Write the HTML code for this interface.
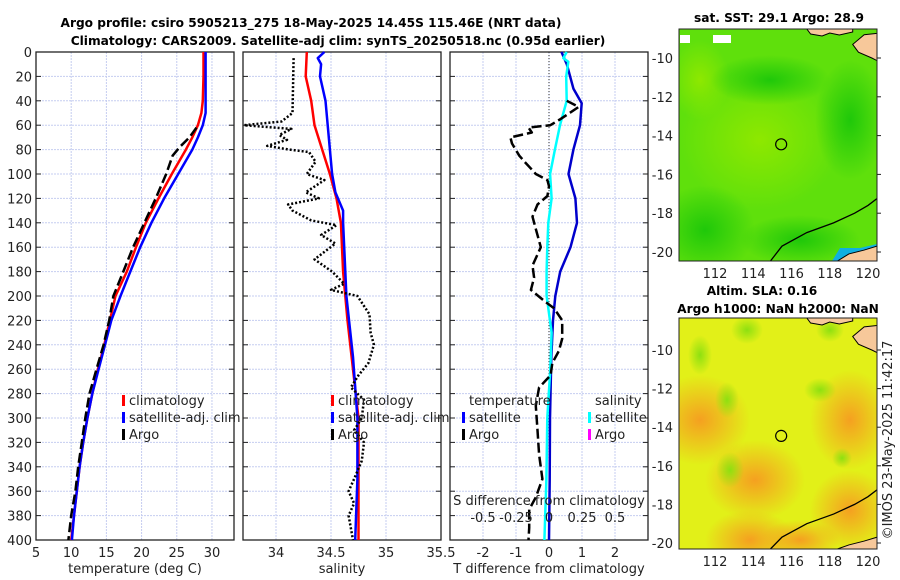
<!DOCTYPE html>
<html><head><meta charset="utf-8"><style>
html,body{margin:0;padding:0;background:#fff;width:900px;height:580px;overflow:hidden}
svg{display:block;font-family:"DejaVu Sans","Liberation Sans",sans-serif}
.t{font-size:13px;fill:#222}
.b{font-weight:bold;font-size:12.2px;fill:#000}
</style></head><body>
<svg id="c" width="900" height="580">
<defs>
<radialGradient id="g1"><stop offset="0" stop-color="#8ee800"/><stop offset="1" stop-color="#8ee800" stop-opacity="0"/></radialGradient>
<radialGradient id="g2"><stop offset="0" stop-color="#1fc80a"/><stop offset="1" stop-color="#1fc80a" stop-opacity="0"/></radialGradient>
<radialGradient id="o1"><stop offset="0" stop-color="#f5a020"/><stop offset="1" stop-color="#f5a020" stop-opacity="0"/></radialGradient>
<radialGradient id="y1"><stop offset="0" stop-color="#8ee010"/><stop offset="1" stop-color="#8ee010" stop-opacity="0"/></radialGradient>
<clipPath id="cm1"><rect x="679" y="29" width="198" height="232"/></clipPath>
<clipPath id="cm2"><rect x="679" y="318" width="198" height="231"/></clipPath>
</defs>
<text class="b" x="311" y="27" text-anchor="middle">Argo profile: csiro 5905213_275 18-May-2025 14.45S 115.46E (NRT data)</text>
<text class="b" x="338" y="45" text-anchor="middle">Climatology: CARS2009. Satellite-adj clim: synTS_20250518.nc (0.95d earlier)</text>
<g id="plots"></g>
<g id="maps"></g>
<text class="t" x="892" y="440" text-anchor="middle" transform="rotate(-90 892 440)">©IMOS 23-May-2025 11:42:17</text>
</svg>
<script>
// ---- data ----
const depthTicks=[0,20,40,60,80,100,120,140,160,180,200,220,240,260,280,300,320,340,360,380,400];
const tTicks=[5,10,15,20,25,30];
const sTicks=[34,34.5,35,35.5];
const dTicks=[-2,-1,0,1,2];
const dTickLabels=["-2","-1","0","1","2"];
const sdTicks=[-0.5,-0.25,0,0.25,0.5];
const climTdepth=[0,20,40,50,60,70,80,100,120,140,160,180,200,220,240,260,280,300,320,340,360,380,400];
const climT=[28.8,28.8,28.7,28.5,28.0,27.2,26.3,24.3,22.4,20.6,19.2,17.9,16.3,15.5,14.7,13.8,13.0,12.3,11.7,11.2,10.8,10.4,10.0];
const satTdepth=[0,20,40,50,60,70,80,100,120,140,160,180,200,220,240,260,280,300,320,340,360,380,400];
const satT=[29.1,29.1,29.1,29.1,28.7,28.0,27.2,25.2,23.2,21.4,19.8,18.4,17.0,15.7,14.8,13.9,13.0,12.3,11.7,11.2,10.8,10.4,10.1];
const argoTdepth=[62,70,78,85,100,120,140,160,180,200,220,240,260,280,300,320,340,360,380,400];
const argoT=[27.8,26.8,25.4,24.4,23.5,22.0,20.4,18.8,17.4,16.0,15.4,14.6,13.6,12.6,12.0,11.5,11.0,10.6,10.0,9.6];
const climSdepth=[0,20,40,60,80,100,120,140,160,180,200,220,260,300,350,400];
const climS=[34.28,34.27,34.32,34.35,34.42,34.49,34.55,34.59,34.6,34.61,34.63,34.65,34.7,34.75,34.75,34.75];
const satSdepth=[0,5,10,20,40,60,80,100,115,130,140,180,200,250,300,350,400];
const satS=[34.44,34.38,34.41,34.40,34.45,34.47,34.49,34.51,34.54,34.61,34.61,34.63,34.64,34.7,34.74,34.74,34.72];
const argoSdepth=[5,50,57,60,63,68,72,77,80,82,90,100,105,115,120,125,130,138,142,150,157,170,180,190,195,200,215,230,240,255,265,275,285,300,310,320,335,350,360,370,380,390,400];
const argoS=[34.16,34.15,34.05,33.71,34.14,34.03,34.1,33.92,34.12,34.3,34.36,34.28,34.44,34.27,34.39,34.11,34.15,34.32,34.55,34.41,34.54,34.35,34.51,34.62,34.5,34.74,34.85,34.86,34.89,34.84,34.75,34.68,34.8,34.78,34.71,34.8,34.78,34.71,34.66,34.71,34.66,34.68,34.7];
const dSatTdepth=[0,10,30,42,60,80,100,120,140,160,180,200,220,250,300,350,400];
const dSatT=[0.38,0.54,0.74,0.99,0.94,0.74,0.59,0.8,0.85,0.65,0.34,0.19,0.12,0.07,0.03,0.02,0.0];
const dArgoTdepth=[40,45,55,60,62,66,70,75,85,90,97,100,105,110,118,125,135,145,160,175,185,195,205,210,220,235,245,255,265,275,290,310,330,350,365,375,390,400];
const dArgoT=[0.54,0.9,0.35,0.04,-0.62,-0.52,-1.17,-1.12,-0.9,-0.74,-0.5,-0.4,-0.05,0.0,-0.05,-0.35,-0.5,-0.4,-0.25,-0.5,-0.45,-0.55,-0.1,0.15,0.4,0.4,0.3,0.1,0.05,-0.3,-0.4,-0.35,-0.3,-0.2,-0.4,-0.6,-0.6,-0.62];
const dSatSdepth=[0,5,8,20,40,60,80,100,120,140,160,180,200,210,230,260,300,350,400];
const dSatS=[0.134,0.108,0.146,0.13,0.134,0.083,0.045,0.008,0.02,-0.005,-0.013,-0.018,-0.018,-0.005,0.02,0.01,-0.013,-0.02,-0.035];
const mapLonTicks=[112,114,116,118,120];
const mapLatTicks=[-10,-12,-14,-16,-18,-20];
const argoLon=115.46, argoLat=-14.45;

// ---- helpers ----
const NS="http://www.w3.org/2000/svg";
function mk(tag,attrs,parent){const e=document.createElementNS(NS,tag);for(const k in attrs)e.setAttribute(k,attrs[k]);parent.appendChild(e);return e;}
const Y0=52,Y1=540;
const yScale=d=>Y0+(Y1-Y0)*d/400;
const panels=[
 {name:'temperature-panel',x0:36,x1:234,v0:5,v1:33.13},
 {name:'salinity-panel',x0:243,x1:441,v0:33.7,v1:35.5},
 {name:'difference-panel',x0:450,x1:648,v0:-3,v1:3}
];
panels.forEach(p=>p.sc=v=>p.x0+(v-p.v0)/(p.v1-p.v0)*(p.x1-p.x0));
const sdScale=v=>panels[2].sc(v*4);
const root=document.getElementById('plots');

function axes(p,xt,xl,xlabel,showY){
 const g=mk('g',{},root);
 
 
 depthTicks.forEach(d=>{const l=mk('line',{x1:p.x0,x2:p.x1,y1:yScale(d),y2:yScale(d),stroke:'#c5cdf0','stroke-width':1,'stroke-dasharray':'2,1'},g);
  
  mk('line',{x1:p.x0,x2:p.x0+5,y1:yScale(d),y2:yScale(d),stroke:'#222'},g);
  mk('line',{x1:p.x1-5,x2:p.x1,y1:yScale(d),y2:yScale(d),stroke:'#222'},g);
  if(showY){const t=mk('text',{x:p.x0-4,y:yScale(d)+5,'text-anchor':'end',class:'t'},g);t.textContent=d;
   }
 });
 xt.forEach((v,i)=>{const x=p.sc(v);
  if(x>p.x0+1&&x<p.x1-1){const l=mk('line',{x1:x,x2:x,y1:Y0,y2:Y1,stroke:'#c5cdf0','stroke-dasharray':'2,1'},g);
   }
  const t=mk('text',{x:x,y:Y1+17,'text-anchor':'middle',class:'t'},g);t.textContent=xl[i];
  
 });
 const fr=mk('rect',{x:p.x0,y:Y0,width:p.x1-p.x0,height:Y1-Y0,fill:'none',stroke:'#222','stroke-width':1.3},g);
 
 const xt2=mk('text',{x:(p.x0+p.x1)/2,y:Y1+33,'text-anchor':'middle',class:'t'},g);xt2.textContent=xlabel;
 
 return g;
}
function series(p,sc,depths,vals,color,w,dash,name){
 const pts=depths.map((d,i)=>sc(vals[i]).toFixed(1)+','+yScale(d).toFixed(1)).join(' ');
 const a={points:pts,fill:'none',stroke:color,'stroke-width':w,'stroke-linejoin':'round'};
 if(dash)a['stroke-dasharray']=dash;
 const e=mk('polyline',a,root);
 
 
}
function legend(x,y,items,pname){
 items.forEach((it,i)=>{
  const yy=y+i*17;
  if(it.c){const m=mk('rect',{x:x,y:yy-10,width:3,height:11,fill:it.c},root);
   }
  const t=mk('text',{x:x+(it.c?7:0),y:yy,class:'t','font-size':'13'},root);t.textContent=it.t;
  
 });
}

const p1=panels[0],p2=panels[1],p3=panels[2];
axes(p1,tTicks,tTicks,'temperature (deg C)',true);
series(p1,p1.sc,climTdepth,climT,'#f00',2.5,null,'climatology-temperature-line');
series(p1,p1.sc,satTdepth,satT,'#00f',2.5,null,'satellite-temperature-line');
series(p1,p1.sc,argoTdepth,argoT,'#000',2.5,'10,4','argo-temperature-line');
legend(122,405,[{t:'climatology',c:'#f00'},{t:'satellite-adj. clim',c:'#00f'},{t:'Argo',c:'#000'}],'temperature');
axes(p2,sTicks,sTicks,'salinity',false);
series(p2,p2.sc,climSdepth,climS,'#f00',2.5,null,'climatology-salinity-line');
series(p2,p2.sc,satSdepth,satS,'#00f',2.5,null,'satellite-salinity-line');
series(p2,p2.sc,argoSdepth,argoS,'#000',2.5,'2,2','argo-salinity-line');
legend(331,405,[{t:'climatology',c:'#f00'},{t:'satellite-adj. clim',c:'#00f'},{t:'Argo',c:'#000'}],'salinity');
axes(p3,dTicks,dTickLabels,'T difference from climatology',false);
const zl=mk('line',{x1:p3.sc(0),x2:p3.sc(0),y1:Y0,y2:Y1,stroke:'#333','stroke-dasharray':'1,2'},root);

series(p3,p3.sc,dSatTdepth,dSatT,'#00c',2.5,null,'satellite-t-difference-line');
series(p3,sdScale,dSatSdepth,dSatS,'#0ff',2.5,null,'satellite-s-difference-line');
series(p3,p3.sc,dArgoTdepth,dArgoT,'#000',2.5,'10,4','argo-t-difference-line');
legend(469,405,[{t:'temperature'}],'diff');
legend(462,422,[{t:'satellite',c:'#00f'},{t:'Argo',c:'#000'}],'diff-temperature');
legend(595,405,[{t:'salinity'}],'diff');
legend(588,422,[{t:'satellite',c:'#0ff'},{t:'Argo',c:'#f0f'}],'diff-salinity');
const sdt=mk('text',{x:549,y:505,'text-anchor':'middle',class:'t'},root);sdt.textContent='S difference from climatology';

sdTicks.forEach(v=>{const t=mk('text',{x:sdScale(v),y:522,'text-anchor':'middle',class:'t'},root);t.textContent=v;
 });

// ---- maps ----
const maps=document.getElementById('maps');
function map(y0,y1,lat10y,lat20y,kind,clip,titleLines){
 const x0=679,x1=877;
 const lonS=l=>715+(l-112)*(868-715)/8;
 const latS=l=>lat10y+(-10-l)*(lat20y-lat10y)/10;
 const g=mk('g',{},maps);
 
 
 const gc=mk('g',{'clip-path':'url(#'+clip+')'},g);
 if(kind==='sst'){
  mk('rect',{x:x0,y:y0,width:x1-x0,height:y1-y0,fill:'#5fe00c'},gc);
  mk('ellipse',{cx:760,cy:140,rx:80,ry:70,fill:'url(#g1)'},gc);
  mk('ellipse',{cx:700,cy:80,rx:30,ry:40,fill:'url(#g1)'},gc);
  mk('ellipse',{cx:770,cy:80,rx:60,ry:25,fill:'url(#g2)'},gc);
  mk('ellipse',{cx:705,cy:230,rx:50,ry:45,fill:'url(#g2)'},gc);
  mk('ellipse',{cx:850,cy:120,rx:35,ry:60,fill:'url(#g2)'},gc);
  mk('ellipse',{cx:800,cy:240,rx:60,ry:25,fill:'url(#g2)'},gc);
  mk('rect',{x:680,y:35,width:10,height:8,fill:'#fff'},gc);
  mk('rect',{x:713,y:35,width:18,height:8,fill:'#fff'},gc);
  mk('polygon',{points:'832,261 840,248 860,248 877,244 877,261',fill:'#10b0e0'},gc);
 } else {
  mk('rect',{x:x0,y:y0,width:x1-x0,height:y1-y0,fill:'#e2f018'},gc);
  [[700,420,50,45],[850,420,40,50],[755,480,50,40],[750,540,45,30],[850,510,40,40],[800,540,40,20]].forEach(b=>mk('ellipse',{cx:b[0],cy:b[1],rx:b[2],ry:b[3],fill:'url(#o1)'},gc));
  [[747,330,16,14],[820,390,16,12],[727,400,12,18],[842,458,10,10],[700,355,12,20],[830,330,14,12],[730,470,14,18]].forEach(b=>mk('ellipse',{cx:b[0],cy:b[1],rx:b[2],ry:b[3],fill:'url(#y1)'},gc));
 }
 const top=y0;
 mk('polygon',{points:`${lonS(116.8)},${top} ${lonS(117)},${top+5} ${lonS(117.6)},${top+7} ${lonS(118)},${top+4} ${lonS(118.5)},${top+6} ${lonS(119.2)},${top+3} ${lonS(119.2)},${top} `,fill:'#f7c89a',stroke:'#000','stroke-width':1},gc);
 mk('polygon',{points:`${lonS(120.8)},${latS(-8.7)} ${lonS(119.8)},${latS(-8.8)} ${lonS(119.2)},${latS(-9.3)} ${lonS(119.5)},${latS(-9.7)} ${lonS(120.2)},${latS(-10.0)} ${lonS(120.8)},${latS(-10.3)}`,fill:'#f7c89a',stroke:'#000','stroke-width':1},gc);
 mk('polygon',{points:`${lonS(118.4)},${y1} ${lonS(119)},${latS(-20.1)} ${lonS(119.8)},${latS(-19.9)} ${lonS(120.8)},${latS(-19.6)} ${lonS(120.8)},${y1}`,fill:'#f7c89a',stroke:'#000','stroke-width':1},gc);
 mk('polyline',{points:`${lonS(114.9)},${y1} ${lonS(115.5)},${latS(-19.7)} ${lonS(116.8)},${latS(-19.0)} ${lonS(118.2)},${latS(-18.5)} ${lonS(119.3)},${latS(-18.0)} ${lonS(120)},${latS(-17.6)} ${lonS(120.8)},${latS(-17.0)}`,fill:'none',stroke:'#000','stroke-width':1.3},gc);
 const ci=mk('circle',{cx:lonS(argoLon),cy:latS(argoLat),r:5.5,fill:'none',stroke:'#000','stroke-width':1.2},g);
 
 mk('rect',{x:x0,y:y0,width:x1-x0,height:y1-y0,fill:'none',stroke:'#222'},g);
 mapLatTicks.forEach(l=>{const y=latS(l);
  mk('line',{x1:x1,x2:x1+4,y1:y,y2:y,stroke:'#222'},g);
  const t=mk('text',{x:x0-6,y:y+5,'text-anchor':'end',class:'t'},g);t.textContent=l;
  });
 mapLonTicks.forEach(l=>{const t=mk('text',{x:lonS(l),y:y1+17,'text-anchor':'middle',class:'t'},g);t.textContent=l;
  });
 titleLines.forEach((s,i)=>{const t=mk('text',{x:s[1],y:s[2],'text-anchor':'middle',class:'b'},g);t.textContent=s[0];
  });
}
map(29,261,58,252,'sst','cm1',[['sat. SST: 29.1 Argo: 28.9',779,22]]);
map(318,549,350,543,'sla','cm2',[['Altim. SLA: 0.16',762,295],['Argo h1000: NaN h2000: NaN',778,313]]);
</script>
</body></html>
